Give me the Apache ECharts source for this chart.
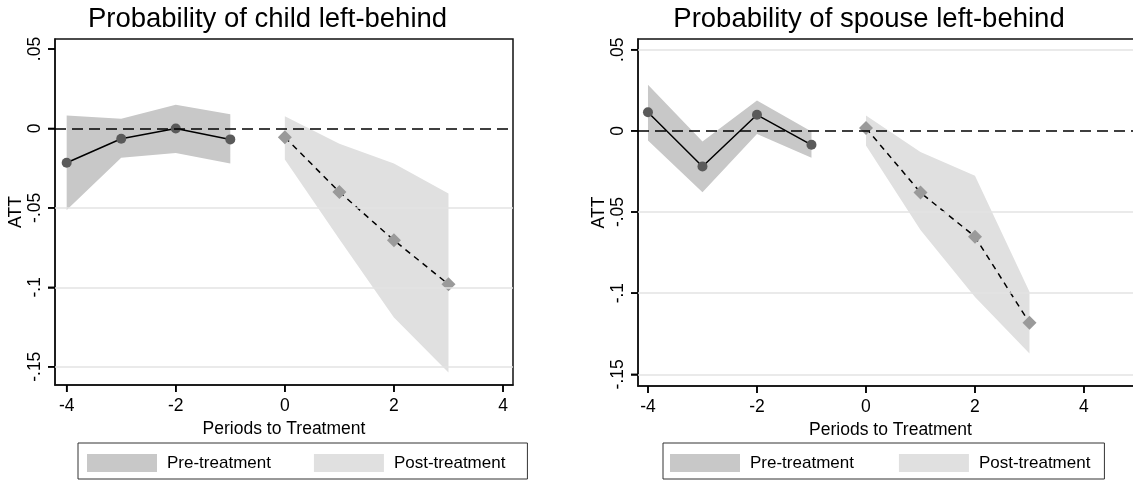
<!DOCTYPE html>
<html>
<head>
<meta charset="utf-8">
<script src="https://cdn.jsdelivr.net/npm/echarts@6/dist/echarts.min.js"></script>
<style>html,body{margin:0;padding:0;background:#fff}#c{width:1133px;height:481px;background:#fff}</style>
</head>
<body>
<div id="c"></div>
<script>
// ---- data ----
const titles = ['Probability of child left-behind', 'Probability of spouse left-behind'];
const preX = [-4, -3, -2, -1];
const postX = [0, 1, 2, 3];
// child
const childPre = [-0.0216, -0.0065, 0.0000, -0.0069];
const childPreHi = [0.0082, 0.0061, 0.0149, 0.0090];
const childPreLo = [-0.0514, -0.0184, -0.0155, -0.0220];
const childPost = [-0.0055, -0.0400, -0.0704, -0.0981];
const childPostHi = [0.0077, -0.0096, -0.0220, -0.0410];
const childPostLo = [-0.0195, -0.0698, -0.1190, -0.1537];
// spouse
const spousePre = [0.0115, -0.0220, 0.0099, -0.0086];
const spousePreHi = [0.0284, -0.0066, 0.0187, -0.0004];
const spousePreLo = [-0.0060, -0.0378, -0.0020, -0.0165];
const spousePost = [0.0017, -0.0380, -0.0652, -0.1183];
const spousePostHi = [0.0094, -0.0131, -0.0276, -0.0992];
const spousePostLo = [-0.0090, -0.0611, -0.1023, -0.1372];
// ticks
const xTicks = [-4, -2, 0, 2, 4];
const xLabels = ['-4', '-2', '0', '2', '4'];
const yTicks = [0.05, 0, -0.05, -0.1, -0.15];
const yLabels = ['.05', '0', '-.05', '-.1', '-.15'];
const gridLinesLeft = [-0.05, -0.1, -0.15];
const gridLinesRight = [0.05, -0.05, -0.1, -0.15];
const legendNames = ['Pre-treatment', 'Post-treatment'];

const FONT = '"Liberation Sans", Helvetica, Arial, sans-serif';
const PRE_BAND = '#c8c8c8';
const POST_BAND = '#e0e0e0';

const axisRange = [
  { xMin: -4.214, xMax: 4.183, yMin: -0.1615, yMax: 0.0563 },
  { xMin: -4.183, xMax: -4.183 + 505 / 54.5, yMin: -0.1572, yMax: 0.0566 }
];

function lab(ticks, labels) {
  return function (v) {
    for (let i = 0; i < ticks.length; i++) if (Math.abs(ticks[i] - v) < 1e-9) return labels[i];
    return '';
  };
}

function bandSeries(name, xs, lo, hi, color, gi) {
  return {
    type: 'custom', name: name, xAxisIndex: gi, yAxisIndex: gi, z: 2, silent: true,
    itemStyle: { color: color },
    data: xs.map((x, i) => [x, lo[i], hi[i]]),
    encode: { x: 0, y: [1, 2] },
    renderItem: function (params, api) {
      if (params.dataIndex !== 0) return null;
      const pts = [];
      for (let i = 0; i < xs.length; i++) pts.push(api.coord([xs[i], hi[i]]));
      for (let i = xs.length - 1; i >= 0; i--) pts.push(api.coord([xs[i], lo[i]]));
      return { type: 'polygon', shape: { points: pts }, style: { fill: color } };
    }
  };
}

function xAxisCfg(gi) {
  const r = axisRange[gi];
  return {
    type: 'value', gridIndex: gi, min: r.xMin, max: r.xMax, position: 'bottom',
    name: 'Periods to Treatment', nameLocation: 'middle', nameGap: 29,
    nameTextStyle: { fontSize: 17.5, color: '#000', fontFamily: FONT },
    axisLine: { show: true, onZero: false, lineStyle: { color: '#111', width: 1.5 } },
    axisTick: { show: true, inside: false, customValues: xTicks, length: 7, lineStyle: { color: '#000', width: 1.5 } },
    axisLabel: { customValues: xTicks, formatter: lab(xTicks, xLabels), fontSize: 17.5, color: '#000', fontFamily: FONT, margin: 12 },
    splitLine: { show: false }
  };
}
function yAxisCfg(gi) {
  const r = axisRange[gi];
  return {
    type: 'value', gridIndex: gi, min: r.yMin, max: r.yMax, position: 'left',
    name: 'ATT', nameLocation: 'middle', nameGap: 30, nameRotate: 90,
    nameTextStyle: { fontSize: 17.5, color: '#000', fontFamily: FONT },
    axisLine: { show: true, onZero: false, lineStyle: { color: '#111', width: 1.5 } },
    axisTick: { show: true, inside: false, customValues: yTicks, length: 7, lineStyle: { color: '#000', width: 1.5 } },
    axisLabel: { customValues: yTicks, formatter: lab(yTicks, yLabels), rotate: 90, fontSize: 17.5, color: '#000', fontFamily: FONT, margin: 11 },
    splitLine: { show: false }
  };
}

function plotSeries(gi, pre, preHi, preLo, post, postHi, postLo, gridVals) {
  return [
    {
      type: 'line', name: 'grid' + gi, xAxisIndex: gi, yAxisIndex: gi, z: 1, silent: true,
      data: [], symbol: 'none',
      markLine: {
        silent: true, symbol: ['none', 'none'], label: { show: false },
        lineStyle: { color: '#e3e3e3', width: 1.5, type: 'solid' },
        data: gridVals.map(v => ({ yAxis: v }))
      }
    },
    bandSeries(legendNames[0], preX, preLo, preHi, PRE_BAND, gi),
    bandSeries(legendNames[1], postX, postLo, postHi, POST_BAND, gi),
    {
      type: 'line', name: 'pre' + gi, xAxisIndex: gi, yAxisIndex: gi, z: 4, silent: true,
      data: preX.map((x, i) => [x, pre[i]]),
      symbol: 'circle', symbolSize: 10,
      itemStyle: { color: '#5a5a5a' },
      lineStyle: { color: '#000', width: 1.5 },
      markLine: {
        silent: true, symbol: ['none', 'none'], label: { show: false },
        lineStyle: { color: '#000', width: 1.5, type: [11, 6] },
        data: [{ yAxis: 0 }]
      }
    },
    {
      type: 'line', name: 'post' + gi, xAxisIndex: gi, yAxisIndex: gi, z: 4, silent: true,
      data: postX.map((x, i) => [x, post[i]]),
      symbol: 'diamond', symbolSize: 14,
      itemStyle: { color: '#9a9a9a' },
      lineStyle: { color: '#000', width: 1.5, type: [6, 5] }
    }
  ];
}

function legendCfg(left, padding, gap) {
  return {
    left: left, top: 443, orient: 'horizontal', selectedMode: false,
    itemWidth: 70, itemHeight: 18, itemGap: gap,
    padding: padding, borderColor: '#333', borderWidth: 1,
    textStyle: { fontSize: 17, color: '#000', fontFamily: FONT, padding: [0, 0, 0, 5] },
    data: [
      { name: legendNames[0], icon: 'rect', itemStyle: { color: PRE_BAND } },
      { name: legendNames[1], icon: 'rect', itemStyle: { color: POST_BAND } }
    ]
  };
}

const titleGraphics = [
  { id: 't0', type: 'text', x: 267.5, y: 5, style: { text: titles[0], fontSize: 27.5, fontFamily: FONT, fill: '#000', textAlign: 'center', textVerticalAlign: 'top' } },
  { id: 't1', type: 'text', x: 869, y: 5, style: { text: titles[1], fontSize: 27.5, fontFamily: FONT, fill: '#000', textAlign: 'center', textVerticalAlign: 'top' } }
];

const chart = echarts.init(document.getElementById('c'), null, { renderer: 'canvas' });
chart.setOption({
  animation: false,
  graphic: titleGraphics,
  grid: [
    { left: 55, top: 39, width: 458, height: 346, show: true, borderColor: '#111', borderWidth: 1.5, outerBoundsMode: 'none' },
    { left: 638, top: 39, width: 505, height: 347, show: true, borderColor: '#111', borderWidth: 1.5, outerBoundsMode: 'none' }
  ],
  xAxis: [xAxisCfg(0), xAxisCfg(1)],
  yAxis: [yAxisCfg(0), yAxisCfg(1)],
  legend: [legendCfg(78, [11, 22, 7, 9], 43), legendCfg(663, [11, 14, 7, 7], 45)],
  series: [].concat(
    plotSeries(0, childPre, childPreHi, childPreLo, childPost, childPostHi, childPostLo, gridLinesLeft),
    plotSeries(1, spousePre, spousePreHi, spousePreLo, spousePost, spousePostHi, spousePostLo, gridLinesRight)
  )
});

// outward tick marks, positioned through the chart's own axis scales
const tickGraphics = [];
[0, 1].forEach(function (gi) {
  const r = axisRange[gi];
  xTicks.forEach(function (v, i) {
    const p = chart.convertToPixel({ gridIndex: gi }, [v, r.yMin]);
    tickGraphics.push({ id: 'xt' + gi + '_' + i, type: 'line', z: 100, silent: true,
      shape: { x1: p[0], y1: p[1], x2: p[0], y2: p[1] + 7 }, style: { stroke: '#000', lineWidth: 1.5 } });
  });
  yTicks.forEach(function (v, i) {
    const p = chart.convertToPixel({ gridIndex: gi }, [r.xMin, v]);
    tickGraphics.push({ id: 'yt' + gi + '_' + i, type: 'line', z: 100, silent: true,
      shape: { x1: p[0], y1: p[1], x2: p[0] - 7, y2: p[1] }, style: { stroke: '#000', lineWidth: 1.5 } });
  });
});
chart.setOption({ graphic: titleGraphics.concat(tickGraphics) });
</script>
</body>
</html>
